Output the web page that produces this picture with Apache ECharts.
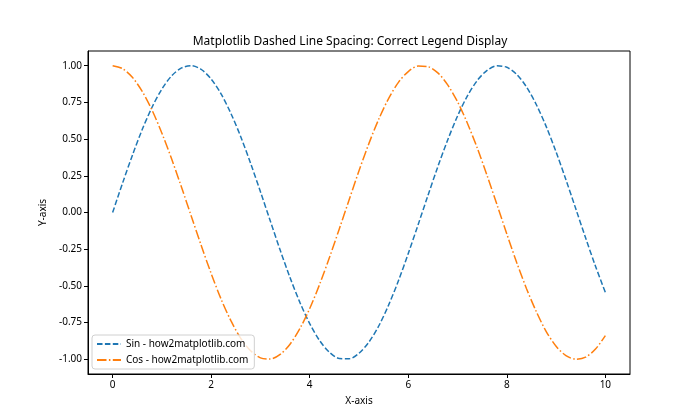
<!DOCTYPE html>
<html><head><meta charset="utf-8">
<script src="https://cdn.jsdelivr.net/npm/echarts@6/dist/echarts.min.js"></script>
<style>html,body{margin:0;padding:0;background:#fff}#c{width:700px;height:420px}</style>
</head><body><div id="c"></div>
<script>
const xValues = [0,0.2,0.4,0.6,0.8,1.0,1.2,1.4,1.6,1.8,2.0,2.2,2.4,2.6,2.8,3.0,3.2,3.4,3.6,3.8,4.0,4.2,4.4,4.6,4.8,5.0,5.2,5.4,5.6,5.8,6.0,6.2,6.4,6.6,6.8,7.0,7.2,7.4,7.6,7.8,8.0,8.2,8.4,8.6,8.8,9.0,9.2,9.4,9.6,9.8,10.0];
const sinValues = [0,0.199,0.389,0.565,0.717,0.841,0.932,0.985,1.000,0.974,0.909,0.808,0.675,0.516,0.335,0.141,-0.058,-0.256,-0.443,-0.612,-0.757,-0.872,-0.952,-0.994,-0.996,-0.959,-0.883,-0.773,-0.631,-0.465,-0.279,-0.083,0.117,0.312,0.494,0.657,0.794,0.899,0.968,0.999,0.989,0.941,0.855,0.734,0.585,0.412,0.223,0.025,-0.174,-0.366,-0.544];
const cosValues = [1,0.980,0.921,0.825,0.697,0.540,0.362,0.170,-0.029,-0.227,-0.416,-0.589,-0.737,-0.857,-0.942,-0.990,-0.998,-0.967,-0.897,-0.791,-0.654,-0.490,-0.307,-0.112,0.087,0.284,0.469,0.635,0.776,0.886,0.960,0.997,0.993,0.951,0.869,0.754,0.608,0.439,0.251,0.054,-0.146,-0.340,-0.519,-0.676,-0.811,-0.911,-0.975,-0.999,-0.985,-0.930,-0.839];
const xTicks = [0,2,4,6,8,10];
const yTicks = [-1.00,-0.75,-0.50,-0.25,0.00,0.25,0.50,0.75,1.00];
const seriesNames = ['Sin - how2matplotlib.com','Cos - how2matplotlib.com'];
const titleText = 'Matplotlib Dashed Line Spacing: Correct Legend Display';

const FONT = 'Noto Sans';
const chart = echarts.init(document.getElementById('c'), null, {renderer:'canvas'});
const pair = (xs, ys) => xs.map((x,i)=>[x, ys[i]]);
chart.setOption({
  animation:false,
  backgroundColor:'#fff',
  textStyle:{fontFamily:FONT},
  title:{text:titleText,left:'center',top:31,textStyle:{fontFamily:FONT,fontSize:12,fontWeight:'normal',color:'#000'}},
  grid:{left:88,right:70,top:51,bottom:46,show:true,borderColor:'#000',borderWidth:1,backgroundColor:'transparent'},
  legend:{
    orient:'vertical',left:92,bottom:51,
    data:seriesNames,
    itemWidth:24,itemHeight:10,itemGap:6,
    padding:[4,6,4,4],
    itemStyle:{opacity:0},
    borderColor:'#d0d0d0',borderWidth:1,borderRadius:3,backgroundColor:'rgba(255,255,255,0.8)',
    textStyle:{fontFamily:FONT,fontSize:10,color:'#000'}
  },
  xAxis:{
    type:'value',min:-0.5,max:10.5,
    name:'X-axis',nameLocation:'middle',nameGap:22,nameTextStyle:{fontFamily:FONT,fontSize:10,color:'#000'},
    axisLine:{show:true,onZero:false,lineStyle:{color:'#000'}},
    axisTick:{show:true,inside:false,length:4,customValues:xTicks,lineStyle:{color:'#000'}},
    axisLabel:{customValues:xTicks,fontFamily:FONT,fontSize:10,color:'#000',margin:6,formatter:v=>String(v)},
    splitLine:{show:false}
  },
  yAxis:{
    type:'value',min:-1.1,max:1.1,
    name:'Y-axis',nameLocation:'middle',nameGap:37,nameTextStyle:{fontFamily:FONT,fontSize:10,color:'#000'},
    axisLine:{show:true,onZero:false,lineStyle:{color:'#000'}},
    axisTick:{show:true,inside:false,length:4,customValues:yTicks,lineStyle:{color:'#000'}},
    axisLabel:{customValues:yTicks,fontFamily:FONT,fontSize:10,color:'#000',margin:6,formatter:v=>v.toFixed(2)},
    splitLine:{show:false}
  },
  series:[
    {name:seriesNames[0],type:'line',data:pair(xValues,sinValues),smooth:0.3,showSymbol:false,symbol:'none',
     color:'#1f77b4',lineStyle:{color:'#1f77b4',width:1.5,type:[5.5,2.4],cap:'butt'}},
    {name:seriesNames[1],type:'line',data:pair(xValues,cosValues),smooth:0.3,showSymbol:false,symbol:'none',
     color:'#ff7f0e',lineStyle:{color:'#ff7f0e',width:1.5,type:[9.5,2.4,1.5,2.4],cap:'butt'}}
  ]
});
</script></body></html>
